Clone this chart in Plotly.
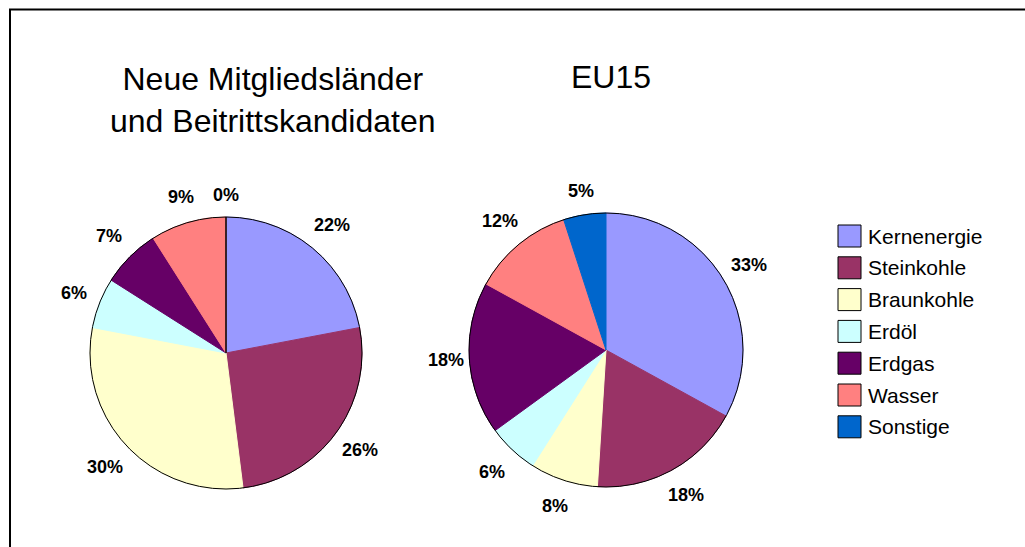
import math
import plotly.graph_objects as go

W, H = 1025, 547

categories = ["Kernenergie", "Steinkohle", "Braunkohle", "Erdöl", "Erdgas", "Wasser", "Sonstige"]
colors = ["#9999FF", "#993366", "#FFFFCC", "#CCFFFF", "#660066", "#FF8080", "#0066CC"]

values_new = [22, 26, 30, 6, 7, 9, 0]      # Neue Mitgliedsländer und Beitrittskandidaten
values_eu15 = [33, 18, 8, 6, 18, 12, 5]    # EU15

title_new = "Neue Mitgliedsländer<br>und Beitrittskandidaten"
title_eu15 = "EU15"

FONT = "Liberation Sans, Arial, sans-serif"

# pie geometry in pixels (center x, center y from top, radius) and title placement
pies = [
    dict(vals=values_new, cx=226, cy=353, r=136, title=title_new, tx=273, ty=100),
    dict(vals=values_eu15, cx=606, cy=350, r=137, title=title_eu15, tx=611, ty=77),
]

fig = go.Figure()
shapes = []
annotations = []

for p in pies:
    x0 = (p["cx"] - p["r"]) / W
    x1 = (p["cx"] + p["r"]) / W
    y0 = (H - p["cy"] - p["r"]) / H
    y1 = (H - p["cy"] + p["r"]) / H
    line_cols = ["black" if v == 0 else c for v, c in zip(p["vals"], colors)]
    fig.add_trace(go.Pie(
        labels=categories,
        values=p["vals"],
        textinfo="none",
        marker=dict(colors=colors, line=dict(color=line_cols, width=1)),
        sort=False,
        direction="clockwise",
        rotation=0,
        domain=dict(x=[x0, x1], y=[y0, y1]),
        showlegend=False,
        hoverinfo="label+percent",
    ))
    shapes.append(dict(type="circle", xref="paper", yref="paper",
                       x0=x0, x1=x1, y0=y0, y1=y1,
                       line=dict(color="black", width=1)))
    # percentage labels placed around the rim at each slice's mid-angle
    total = sum(p["vals"])
    cum = 0
    for v in p["vals"]:
        theta = 2 * math.pi * (cum + v / 2) / total
        cum += v
        R = p["r"] + 22 + 8 * abs(math.sin(2 * theta))
        lx = p["cx"] + R * math.sin(theta)
        ly = p["cy"] - R * math.cos(theta)
        annotations.append(dict(text=f"<b>{round(100 * v / total)}%</b>",
                                x=lx / W, y=1 - ly / H,
                                xref="paper", yref="paper", showarrow=False,
                                xanchor="center", yanchor="middle",
                                font=dict(family=FONT, size=18, color="black")))
    annotations.append(dict(text=p["title"], x=p["tx"] / W, y=1 - p["ty"] / H,
                            xref="paper", yref="paper", showarrow=False,
                            xanchor="center", yanchor="middle",
                            font=dict(family=FONT, size=32, color="black")))

# legend (drawn as shapes + text)
leg_x0, leg_y0, leg_dy, sq = 838, 236, 31.8, 22
for i, (cat, col) in enumerate(zip(categories, colors)):
    yc = leg_y0 + i * leg_dy
    shapes.append(dict(type="rect", xref="paper", yref="paper",
                       x0=leg_x0 / W, x1=(leg_x0 + sq + 1) / W,
                       y0=1 - (yc + sq / 2) / H, y1=1 - (yc - sq / 2) / H,
                       fillcolor=col, line=dict(color="black", width=1)))
    annotations.append(dict(text=cat, x=(leg_x0 + sq + 6) / W, y=1 - yc / H,
                            xref="paper", yref="paper", showarrow=False,
                            xanchor="left", yanchor="middle",
                            font=dict(family=FONT, size=21, color="black")))

# outer frame
shapes.append(dict(type="rect", xref="paper", yref="paper",
                   x0=10 / W, x1=1.02, y0=-0.02, y1=1 - 9.5 / H,
                   line=dict(color="black", width=2)))

fig.update_layout(
    width=W, height=H,
    margin=dict(l=0, r=0, t=0, b=0),
    paper_bgcolor="white", plot_bgcolor="white",
    shapes=shapes, annotations=annotations,
    font=dict(family=FONT),
)

fig.write_html("out.html", config={"displayModeBar": False},
               post_script="document.body.style.margin='0';")
